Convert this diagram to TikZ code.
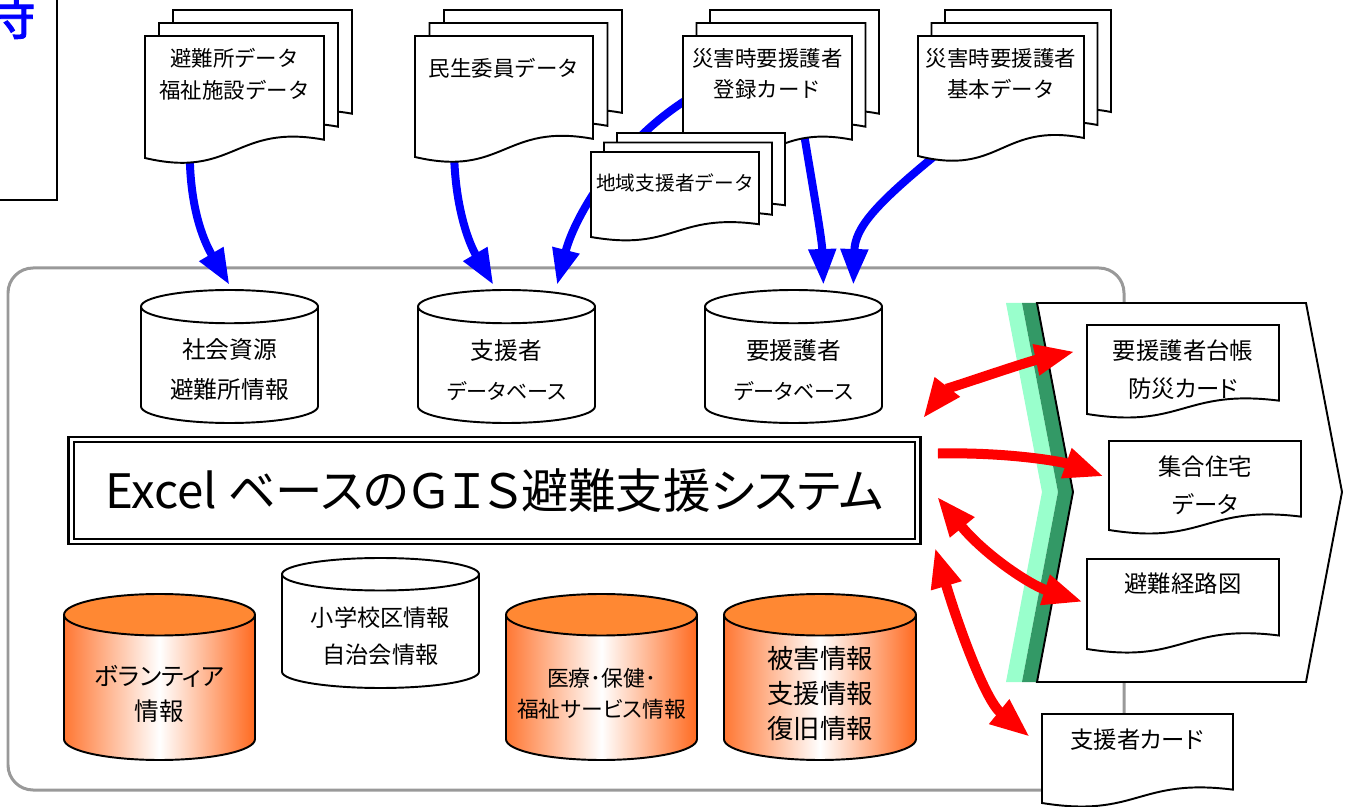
\documentclass[tikz,border=0pt]{standalone}
\usepackage{fontspec}
\setmainfont{Noto Sans CJK JP}
\newfontfamily\propfont{Noto Sans CJK JP}[CharacterWidth=AlternateProportional]
\newfontfamily\markfont{Noto Sans CJK JP}[FakeBold=1.5]
\usepackage{xcolor}
\usepackage{tikz}
\usetikzlibrary{arrows.meta,calc,fit,backgrounds}
\definecolor{cylTop}{HTML}{FF8833}
\definecolor{cylEdgeL}{HTML}{FF7733}
\definecolor{cylEdgeR}{HTML}{FF6A20}
\definecolor{stripLight}{HTML}{99FFCC}
\definecolor{stripDark}{HTML}{339966}
\newcommand{\docsheet}[4]{
\pgfmathsetmacro\sheetwave{0.15*((#4)-(#2))}
\pgfmathsetmacro\sheetmid{((#1)+(#3))/2}
\draw[sheet] (#1,#2) -- (#3,#2) -- (#3,{(#4)-\sheetwave})
  .. controls (\sheetmid,{(#4)-1.9*\sheetwave}) and (\sheetmid,{(#4)+1.15*\sheetwave}) .. (#1,#4) -- cycle;
}
\newcommand{\docpage}[5]{
\docsheet{#2}{#3}{#4}{#5}
\node[fit={(#2,#3) (#4,#5)}, inner sep=0pt, outer sep=0pt] (#1) {};
}
\newcommand{\docstack}[7]{
\docsheet{#2+2*#6}{#3-2*#7}{#4+2*#6}{#5-2*#7}
\docsheet{#2+#6}{#3-#7}{#4+#6}{#5-#7}
\docpage{#1}{#2}{#3}{#4}{#5}
}
\newcommand{\dbcyl}[8][]{
\pgfmathsetmacro\cylry{0.125*((#7)-(#6))}
\pgfmathsetmacro\cylrxpt{(#5)*0.569055}
\pgfmathsetmacro\cylrypt{\cylry*0.569055}
\path[db#2] ({(#4)-(#5)},{(#6)+\cylry}) -- ({(#4)-(#5)},{(#7)-\cylry})
  arc[start angle=180, end angle=360, x radius=\cylrxpt pt, y radius=\cylrypt pt]
  -- ({(#4)+(#5)},{(#6)+\cylry}) -- cycle;
\path[db#2 top] (#4,{(#6)+\cylry}) ellipse[x radius=\cylrxpt pt, y radius=\cylrypt pt];
\node[fit={({(#4)-(#5)},#6) ({(#4)+(#5)},#7)}, inner sep=0pt, outer sep=0.1cm] (#3) {};
\node[dbtext, #1] (#3txt) at (#4,{((#6)+(#7))/2+0.8*\cylry}) {#8};
}
\newcommand{\narrowkana}[1]{{\fontsize{12}{20}\selectfont #1}}

\begin{document}
\begin{tikzpicture}[x=0.02cm, y=-0.02cm,
    sheet/.style={draw, fill=white, line width=1.1pt},
    dbwhite/.style={draw, fill=white, line width=1.1pt},
    dbwhite top/.style={draw, fill=white, line width=1.1pt},
    dborange/.style={draw, left color=cylEdgeL, right color=cylEdgeR, middle color=white, line width=1.1pt},
    dborange top/.style={draw, fill=cylTop, line width=1.1pt},
    dbtext/.style={align=center, inner sep=0pt, font=\propfont\fontsize{13}{20}\selectfont},
    doctext/.style={align=center, inner sep=0pt, font=\fontsize{12.2}{18}\selectfont},
    cardtext/.style={align=center, inner sep=0pt, font=\propfont\fontsize{13.3}{21.6}\selectfont},
    titlebox/.style={draw, double, double distance=0.06cm, line width=0.045cm,
      minimum width=16.94cm, minimum height=2.04cm, inner sep=0pt, outer sep=0pt,
      font=\propfont\fontsize{27}{30}\selectfont},
    frame/.style={draw=black!40, line width=0.06cm, rounded corners=0.5cm},
    bluearrow/.style={draw=blue, line width=0.16cm, -{Triangle[length=0.72cm,width=0.52cm]}},
    redarrow/.style={draw=red, line width=0.2cm, -{Triangle[length=0.8cm,width=0.58cm]}},
    redboth/.style={redarrow, {Triangle[length=0.8cm,width=0.58cm]}-{Triangle[length=0.8cm,width=0.58cm]}}]
  \useasboundingbox (0,0) rectangle (1350,807);
  \clip (0,0) rectangle (1350,807);
  \draw[line width=1.1pt] (-10,-10) rectangle (57,200);
  \node[text=blue, inner sep=0pt, font=\markfont\fontsize{32}{32}\selectfont] (cutMark) at (7,13) {時};

  \docstack{docShelter}{145}{36}{324}{158}{14}{13}
  \docstack{docMinsei}{415}{36}{593}{157}{14.5}{13}
  \docstack{docRegister}{683}{36}{852}{158}{13.5}{13}
  \docstack{docLocal}{591}{152}{759}{237}{13}{9.5}
  \docstack{docBasic}{918}{36}{1084}{156}{13.5}{13}
  \node[doctext] (txtShelter) at (234.5,74) {避難所データ\\福祉施設データ};
  \node[doctext] (txtMinsei) at (504,68) {民生委員データ};
  \node[doctext] (txtRegister) at (767.5,74) {災害時要援護者\\登録カード};
  \node[doctext, font=\fontsize{11.2}{18}\selectfont] (txtLocal) at (675,183) {地域支援者データ};
  \node[doctext] (txtBasic) at (1001,74) {災害時要援護者\\基本データ};

  \dbcyl[font=\propfont\fontsize{13.5}{20}\selectfont]{white}{dbResource}{229.5}{88.5}{290}{423}{社会資源\\[2.8pt]避難所情報}
  \dbcyl[font=\propfont\fontsize{13.5}{20}\selectfont]{white}{dbSupporter}{506.5}{88.5}{290}{423}{支援者\\[2.8pt]\narrowkana{データベース}}
  \dbcyl[font=\propfont\fontsize{13.5}{20}\selectfont]{white}{dbNeeds}{793.5}{88.5}{290}{423}{要援護者\\[2.8pt]\narrowkana{データベース}}
  \dbcyl[font=\propfont\fontsize{14}{20}\selectfont]{orange}{dbVolunteer}{159.5}{95.5}{594}{760}{ボランティア\\情報}
  \dbcyl[font=\propfont\fontsize{13.2}{21}\selectfont]{white}{dbSchool}{380.5}{98.5}{558}{688}{小学校区情報\\自治会情報}
  \dbcyl[font=\propfont\fontsize{12.4}{17.6}\selectfont]{orange}{dbMedical}{601.5}{95.5}{594}{760}{医療･保健･\\福祉サービス情報}
  \dbcyl[font=\propfont\fontsize{15}{20}\selectfont]{orange}{dbDamage}{820}{96}{594}{760}{被害情報\\支援情報\\復旧情報}

  \node[titlebox] (sysTitle) at (494.5,490.5) {Excel ベースのＧＩＳ避難支援システム};

  \fill[stripLight] (1006,303) -- (1022,303) -- (1058,492) -- (1022,682) -- (1006,682) -- (1042,492) -- cycle;
  \fill[stripDark] (1022,303) -- (1037,303) -- (1073,492) -- (1037,682) -- (1022,682) -- (1058,492) -- cycle;
  \draw[sheet] (1037,303) -- (1306,303) -- (1342,492) -- (1306,682) -- (1037,682) -- (1073,492) -- cycle;
  \docpage{docLedger}{1087}{325}{1279}{414}
  \docpage{docHousing}{1109}{441}{1301}{530}
  \docpage{docRoute}{1087}{559}{1279}{649}
  \docpage{docCard}{1042}{714}{1233}{803}
  \node[cardtext] (txtLedger) at (1183,370) {要援護者台帳\\防災カード};
  \node[cardtext] (txtHousing) at (1205,485.5) {集合住宅\\データ};
  \node[cardtext] (txtRoute) at (1183,584) {避難経路図};
  \node[cardtext] (txtCard) at (1137,740) {支援者カード};

  \begin{scope}[on background layer]
    \draw[frame] (8,268) rectangle (1124,790);
    \draw[bluearrow] ([shift={(8,0)}]docRegister.west) .. controls (620,140) and (575,215) .. ($(dbSupporter.north west)!0.77!(dbSupporter.north east)$);
    \draw[bluearrow] ($(docShelter.south west)!0.25!(docShelter.south east)$) .. controls (191,215) and (206,245) .. (dbResource.north);
    \draw[bluearrow] ($(docMinsei.south west)!0.22!(docMinsei.south east)$) .. controls (456,212) and (470,245) .. ($(dbSupporter.north west)!0.43!(dbSupporter.north east)$);
    \draw[bluearrow] ($(docRegister.south west)!0.72!(docRegister.south east)+(0,-20)$) .. controls (815,200) and (822,240) .. ($(dbNeeds.north west)!0.66!(dbNeeds.north east)$);
    \draw[bluearrow] ($(docBasic.south west)!0.1!(docBasic.south east)$) .. controls (875,205) and (855,228) .. ($(dbNeeds.north west)!0.82!(dbNeeds.north east)$);
  \end{scope}

  \draw[redboth] ([shift={(5,-21)}]sysTitle.north east) .. controls (945,390) and (1026,362) .. ([shift={(-12,-18)}]docLedger.west);
  \draw[redarrow] ([shift={(20,14)}]sysTitle.north east) .. controls (1010,452) and (1063,462) .. ([shift={(-5,-9)}]docHousing.west);
  \draw[redboth] ([shift={(19,6)}]sysTitle.east) .. controls (985,555) and (1030,585) .. ([shift={(-4,-2)}]docRoute.west);
  \draw[redboth] ([shift={(17,6)}]sysTitle.south east) .. controls (958,625) and (985,700) .. ([shift={(-12,23)}]docCard.north west);
\end{tikzpicture}
\end{document}
